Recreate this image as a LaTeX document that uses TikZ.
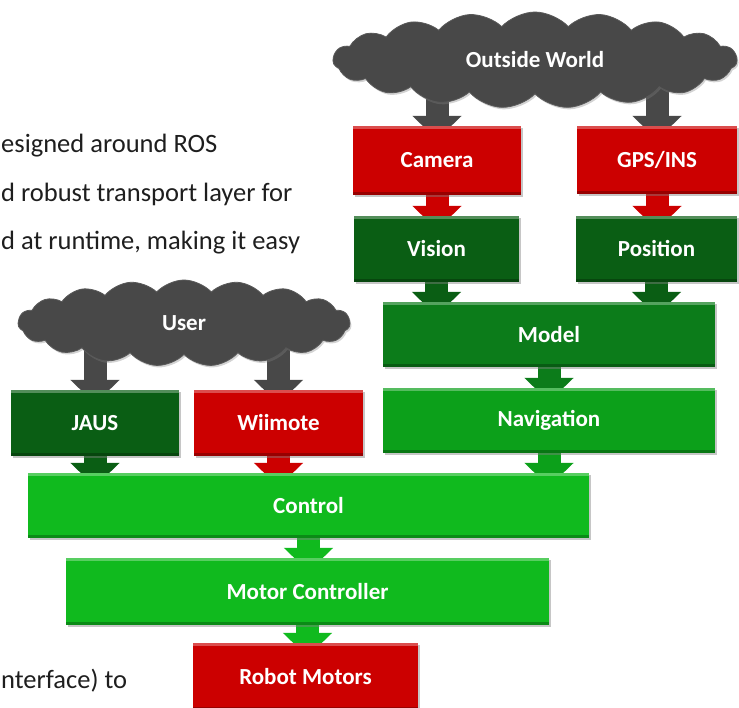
\documentclass[tikz,border=0pt]{standalone}
\usepackage{fontspec}
\setmainfont{Carlito}
\usetikzlibrary{shapes.symbols,shadows,calc,arrows.meta}
\definecolor{cred}{RGB}{204,0,0}
\definecolor{dgreen}{RGB}{10,94,20}
\definecolor{mgreen}{RGB}{12,124,26}
\definecolor{ngreen}{RGB}{12,160,26}
\definecolor{bgreen}{RGB}{16,186,30}
\definecolor{cgray}{RGB}{72,72,72}
\definecolor{txtc}{RGB}{30,30,30}
\pgfdeclarelayer{bg}\pgfsetlayers{bg,main}
\begin{document}
\begin{tikzpicture}[x=1pt,y=-1pt,
  lbl/.style={font=\bfseries\fontsize{23}{26}\selectfont, text=white},
  box/.style n args={3}{rectangle, inner sep=0pt, fill=#1, minimum width=#2, minimum height=#3, lbl,
    drop shadow={shadow xshift=1.5pt,shadow yshift=-2pt,opacity=0.45},
    path picture={
      \fill[white,opacity=0.3] (path picture bounding box.north west) rectangle ([yshift=-3pt]path picture bounding box.north east);
      \fill[black,opacity=0.25] ([yshift=3pt]path picture bounding box.south west) rectangle (path picture bounding box.south east);}},
  cloudnode/.style n args={2}{cloud, cloud puffs=19, cloud puff arc=95, cloud ignores aspect,
    minimum width=#1, minimum height=#2, fill=cgray, draw=gray!70!black, line width=0.8pt, inner sep=0pt, lbl,
    drop shadow={shadow xshift=1.5pt,shadow yshift=-2pt,opacity=0.35}},
  arr/.style={line width=23pt, draw=#1, -{Triangle[width=48pt,length=24pt]}},
  txt/.style={anchor=base west, inner sep=0pt, text=txtc, font=\fontsize{26.5}{31}\selectfont},
]
\useasboundingbox (0,0) rectangle (739,708);
\clip (0,0) rectangle (739,708);

% side text
\node[txt] (t1) at (1,153) {esigned around ROS};
\node[txt] (t2) at (1,202) {d robust transport layer for};
\node[txt] (t3) at (1,250) {d at runtime, making it easy};
\node[txt] (t4) at (1,688) {nterface) to};

% clouds
\node[cloudnode={404pt}{96pt}] (ow) at (535,60) {Outside World};
\node[cloudnode={332pt}{86pt}] (user) at (184,323) {User};

% boxes
\node[box={cred}{168pt}{69pt}] (cam) at (437,160.5) {Camera};
\node[box={cred}{160pt}{68pt}] (gps) at (657,160) {GPS/INS};
\node[box={dgreen}{165pt}{66pt}] (vis) at (436.5,249) {Vision};
\node[box={dgreen}{161pt}{66pt}] (pos) at (656.5,249) {Position};
\node[box={mgreen}{332pt}{65pt}] (model) at (549,334.5) {Model};
\node[box={ngreen}{332pt}{65pt}] (nav) at (549,420.5) {Navigation};
\node[box={dgreen}{168pt}{66pt}] (jaus) at (95,423) {JAUS};
\node[box={cred}{169pt}{66pt}] (wii) at (278.5,423) {Wiimote};
\node[box={bgreen}{561pt}{65pt}] (ctrl) at (308.5,505.5) {Control};
\node[box={bgreen}{483pt}{67pt}] (motor) at (307.5,591.5) {Motor Controller};
\node[box={cred}{225pt}{67pt}] (robot) at (305.5,676.5) {Robot Motors};

% connectors (behind)
\begin{pgfonlayer}{bg}
\draw[arr=cgray] (ow.center -| cam.north) -- ($(cam.north)+(0,14)$);
\draw[arr=cgray] (ow.center -| gps.north) -- ($(gps.north)+(0,14)$);
\draw[arr=cgray] (user.center -| jaus.north) -- ($(jaus.north)+(0,14)$);
\draw[arr=cgray] (user.center -| wii.north) -- ($(wii.north)+(0,14)$);
\draw[arr=cred] (cam.south) -- ($(vis.north -| cam.south)+(0,14)$);
\draw[arr=cred] (gps.south) -- ($(pos.north -| gps.south)+(0,14)$);
\draw[arr=dgreen] (vis.south) -- ($(model.north -| vis.south)+(0,14)$);
\draw[arr=dgreen] (pos.south) -- ($(model.north -| pos.south)+(0,14)$);
\draw[arr=mgreen] (model.south) -- ($(nav.north -| model.south)+(0,14)$);
\draw[arr=dgreen] (jaus.south) -- ($(ctrl.north -| jaus.south)+(0,14)$);
\draw[arr=cred] (wii.south) -- ($(ctrl.north -| wii.south)+(0,14)$);
\draw[arr=ngreen] (nav.south) -- ($(ctrl.north -| nav.south)+(0,14)$);
\draw[arr=bgreen] (ctrl.south) -- ($(motor.north -| ctrl.south)+(0,14)$);
\draw[arr=bgreen] (motor.south) -- ($(robot.north -| motor.south)+(0,14)$);
\end{pgfonlayer}
\end{tikzpicture}
\end{document}
